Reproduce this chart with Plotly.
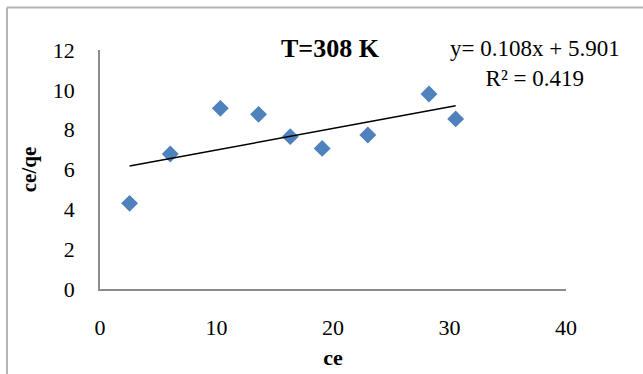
import plotly.graph_objects as go

# Data
ce = [2.54, 6.03, 10.33, 13.61, 16.33, 19.07, 22.99, 28.24, 30.53]
ce_qe = [4.30, 6.78, 9.07, 8.77, 7.65, 7.06, 7.73, 9.79, 8.54]
slope = 0.108
intercept = 5.901
r2 = 0.419
x_ticks = [0, 10, 20, 30, 40]
y_ticks = [0, 2, 4, 6, 8, 10, 12]

FONT = "'Liberation Serif', 'Times New Roman', serif"

fit_x = [min(ce), max(ce)]
fit_y = [slope * v + intercept for v in fit_x]

fig = go.Figure()
fig.add_trace(go.Scatter(
    x=ce, y=ce_qe, mode="markers",
    marker=dict(symbol="diamond", size=13, color="#4F81BD"),
    showlegend=False, hoverinfo="x+y"))
fig.add_trace(go.Scatter(
    x=fit_x, y=fit_y, mode="lines",
    line=dict(color="black", width=1.5),
    showlegend=False, hoverinfo="skip"))

fig.update_layout(
    width=643, height=374,
    margin=dict(l=100, r=77, t=50, b=85),
    paper_bgcolor="white", plot_bgcolor="white",
    font=dict(family=FONT, size=22, color="black"),
    xaxis=dict(range=[0, 40], tickvals=x_ticks, showgrid=False, zeroline=False,
               showline=True, linecolor="#8c8c8c", linewidth=1.5, automargin=False,
               ticks="", ticklabelstandoff=18,
               tickfont=dict(family=FONT, size=22),
               title=dict(text="<b>ce</b>", font=dict(family=FONT, size=22), standoff=10)),
    yaxis=dict(range=[0, 12], tickvals=y_ticks, showgrid=False, zeroline=False,
               showline=True, linecolor="#8c8c8c", linewidth=1.5, automargin=False,
               ticks="", ticklabelstandoff=19,
               tickfont=dict(family=FONT, size=22),
               title=dict(text="<b>ce/qe</b>", font=dict(family=FONT, size=21), standoff=10)),
    annotations=[
        dict(text="<b>T=308 K</b>", xref="paper", yref="paper",
             x=0.4936, y=1.008, xanchor="center", yanchor="middle", showarrow=False,
             font=dict(family=FONT, size=26, color="black")),
        dict(text=f"y= {slope}x + {intercept}<br>R² = {r2}", xref="paper", yref="paper",
             x=0.9335, y=0.9456, xanchor="center", yanchor="middle",
             showarrow=False, align="center",
             font=dict(family=FONT, size=23, color="black")),
    ],
    shapes=[
        dict(type="line", xref="paper", yref="paper", x0=-0.1996, x1=1.2, y0=1.1778, y1=1.1778,
             line=dict(color="#b4b4b4", width=2)),
        dict(type="line", xref="paper", yref="paper", x0=-0.1996, x1=-0.1996, y0=1.1778, y1=-0.4,
             line=dict(color="#b4b4b4", width=2)),
    ],
)

fig.write_html("out.html")
